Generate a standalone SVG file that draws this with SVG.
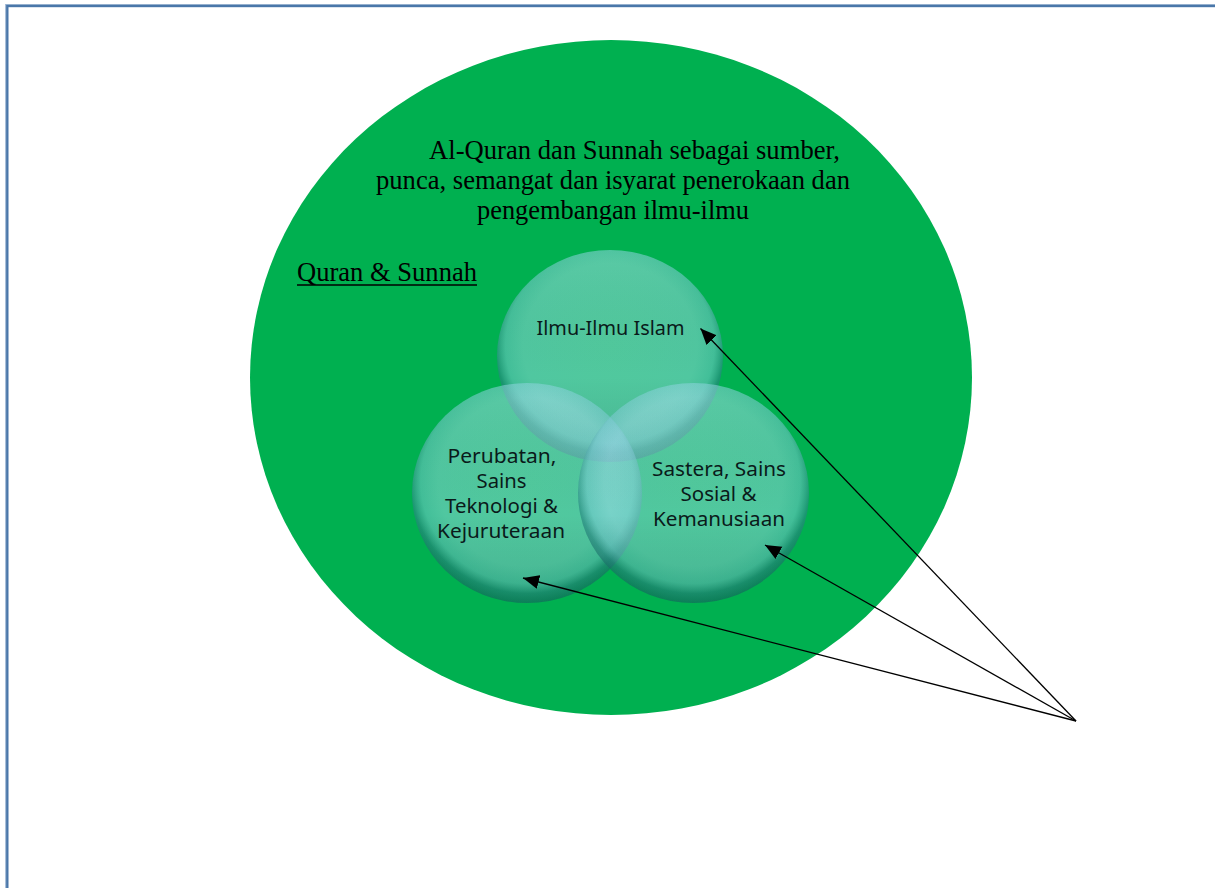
<svg xmlns="http://www.w3.org/2000/svg" width="1215" height="888" viewBox="0 0 1215 888">
  <style>
    .title { font-family: "Liberation Serif", "Times New Roman", serif; font-size: 26.5px; fill: #000; }
    .lbl { font-family: "Noto Sans", "Open Sans", sans-serif; font-size: 20px; fill: #0a1a1a; text-anchor: middle; }
    .arrow { stroke: #000; stroke-width: 1.3; fill: none; marker-end: url(#ah); }
  </style>
  <defs>
    <radialGradient id="bub" cx="50%" cy="45%" r="55%">
      <stop offset="0" stop-color="#a8e4f0" stop-opacity="0.48"/>
      <stop offset="0.7" stop-color="#a0def0" stop-opacity="0.5"/>
      <stop offset="0.84" stop-color="#78cbd4" stop-opacity="0.55"/>
      <stop offset="0.92" stop-color="#2a8a84" stop-opacity="0.65"/>
      <stop offset="1" stop-color="#176c66" stop-opacity="0.6"/>
    </radialGradient>
    <linearGradient id="shade" x1="0" y1="0" x2="0" y2="1">
      <stop offset="0" stop-color="#ffffff" stop-opacity="0.06"/>
      <stop offset="0.6" stop-color="#000000" stop-opacity="0"/>
      <stop offset="1" stop-color="#003a30" stop-opacity="0.12"/>
    </linearGradient>
    <marker id="ah" markerUnits="userSpaceOnUse" markerWidth="18" markerHeight="15" refX="16" refY="7" orient="auto">
      <path d="M0,0 L16,7 L0,14 z" fill="#000"/>
    </marker>
  </defs>

  <rect x="0" y="0" width="1215" height="888" fill="#fff"/>

  <g id="page-border">
    <rect x="5.5" y="4.5" width="1300" height="1000" fill="none" stroke="#a9bfd9" stroke-width="1"/>
    <rect x="7.3" y="6" width="1300" height="1000" fill="none" stroke="#4a77a9" stroke-width="2.4"/>
  </g>

  <g id="quran-sunnah">
    <ellipse cx="611" cy="377.5" rx="361" ry="337.5" fill="#00b050"/>
    <text class="title" x="429" y="159" textLength="411" lengthAdjust="spacingAndGlyphs">Al-Quran dan Sunnah sebagai sumber,</text>
    <text class="title" x="376" y="189" textLength="474" lengthAdjust="spacingAndGlyphs">punca, semangat dan isyarat penerokaan dan</text>
    <text class="title" x="477" y="219" textLength="272" lengthAdjust="spacingAndGlyphs">pengembangan ilmu-ilmu</text>
    <text class="title" x="297" y="281" textLength="180" lengthAdjust="spacingAndGlyphs">Quran &amp; Sunnah</text>
    <line x1="297" y1="285" x2="477" y2="285" stroke="#000" stroke-width="1.3"/>
  </g>

  <g id="ilmu-islam">
    <ellipse cx="610" cy="356" rx="113" ry="106" fill="url(#bub)"/>
    <ellipse cx="610" cy="356" rx="113" ry="106" fill="url(#shade)"/>
    <text class="lbl" x="610.5" y="335" textLength="148" lengthAdjust="spacingAndGlyphs">Ilmu-Ilmu Islam</text>
  </g>

  <g id="perubatan">
    <ellipse cx="527" cy="493" rx="115" ry="110" fill="url(#bub)"/>
    <ellipse cx="527" cy="493" rx="115" ry="110" fill="url(#shade)"/>
    <text class="lbl" x="502" y="463" textLength="109" lengthAdjust="spacingAndGlyphs">Perubatan,</text>
    <text class="lbl" x="501.5" y="488" textLength="50" lengthAdjust="spacingAndGlyphs">Sains</text>
    <text class="lbl" x="501.5" y="513" textLength="113" lengthAdjust="spacingAndGlyphs">Teknologi &amp;</text>
    <text class="lbl" x="501" y="538" textLength="128" lengthAdjust="spacingAndGlyphs">Kejuruteraan</text>
  </g>

  <g id="sastera">
    <ellipse cx="693.5" cy="493" rx="115.5" ry="110" fill="url(#bub)"/>
    <ellipse cx="693.5" cy="493" rx="115.5" ry="110" fill="url(#shade)"/>
    <text class="lbl" x="719" y="475.5" textLength="134" lengthAdjust="spacingAndGlyphs">Sastera, Sains</text>
    <text class="lbl" x="718.5" y="500.5" textLength="76" lengthAdjust="spacingAndGlyphs">Sosial &amp;</text>
    <text class="lbl" x="719" y="525.5" textLength="132" lengthAdjust="spacingAndGlyphs">Kemanusiaan</text>
  </g>

  <g id="connectors">
    <line class="arrow" x1="1076" y1="721" x2="700.5" y2="328.5"/>
    <line class="arrow" x1="1076" y1="721" x2="765" y2="545"/>
    <line class="arrow" x1="1076" y1="721" x2="523" y2="578"/>
  </g>
</svg>
